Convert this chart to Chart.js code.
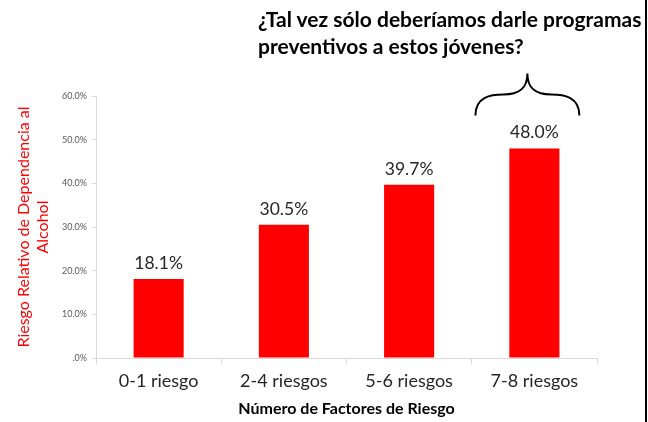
<!DOCTYPE html>
<html>
<head>
<meta charset="utf-8">
<script src="https://cdn.jsdelivr.net/npm/chart.js@4"></script>
<style>
  html, body { margin: 0; padding: 0; background: #fff; }
  #wrap { position: relative; width: 648px; height: 422px; overflow: hidden; }
  #chart { position: absolute; left: 0; top: 0; }
  #headline {
    position: absolute; left: 258px; top: 5px;
    font-family: Lato, "Open Sans", sans-serif; font-weight: bold;
    font-size: 21px; line-height: 27px; color: #000; white-space: nowrap;
  }
  #edge { position: absolute; left: 645px; top: 0; width: 2px; height: 422px; background: #000; }
</style>
</head>
<body>
<div id="wrap">
  <canvas id="chart" width="648" height="422"></canvas>
  <div id="headline">¿Tal vez sólo deberíamos darle programas<br>preventivos a estos jóvenes?</div>
  <div id="edge"></div>
</div>
<script>
// ============================================
// DATA
// ============================================
const categories = ['0-1 riesgo', '2-4 riesgos', '5-6 riesgos', '7-8 riesgos'];
const riskValues = [18.1, 30.5, 39.7, 48.0];
const yTitle = ['Riesgo Relativo de Dependencia al', 'Alcohol'];
const xTitle = 'Número de Factores de Riesgo';

const FONT = 'Lato, "Open Sans", sans-serif';

// value labels above the bars + the curly brace over the last bar
const barExtras = {
  id: 'barExtras',
  afterDatasetsDraw(chart) {
    const ctx = chart.ctx;
    const meta = chart.getDatasetMeta(0);
    ctx.save();
    ctx.fillStyle = '#262626';
    ctx.font = '17.5px ' + FONT;
    ctx.textAlign = 'center';
    ctx.textBaseline = 'alphabetic';
    meta.data.forEach((bar, i) => {
      ctx.fillText(riskValues[i].toFixed(1) + '%', bar.x, bar.y - 10);
    });

    // brace over the last group
    const last = meta.data[meta.data.length - 1];
    const cx = last.x - 7, y0 = last.y - 33, ym = y0 - 21, yp = y0 - 42;
    const half = 52;
    ctx.strokeStyle = '#000';
    ctx.lineWidth = 2;
    ctx.beginPath();
    ctx.moveTo(cx - half, y0);
    ctx.bezierCurveTo(cx - half, ym + 2, cx - half + 16, ym, cx - 24, ym);
    ctx.bezierCurveTo(cx - 8, ym, cx, ym - 6, cx, yp);
    ctx.bezierCurveTo(cx, ym - 6, cx + 8, ym, cx + 24, ym);
    ctx.bezierCurveTo(cx + half - 16, ym, cx + half, ym + 2, cx + half, y0);
    ctx.stroke();
    ctx.restore();
  }
};

new Chart(document.getElementById('chart'), {
  type: 'bar',
  data: {
    labels: categories,
    datasets: [{
      data: riskValues,
      backgroundColor: '#ff0000',
      borderWidth: 0,
      categoryPercentage: 0.4,
      barPercentage: 1.0
    }]
  },
  options: {
    responsive: false,
    animation: false,
    layout: { padding: { top: 96, right: 51, left: 0, bottom: 0 } },
    plugins: { legend: { display: false }, tooltip: { enabled: false } },
    scales: {
      x: {
        grid: { drawOnChartArea: false, color: '#d9d9d9', tickLength: 6, offset: true },
        border: { color: '#d9d9d9', width: 1 },
        ticks: { color: '#262626', font: { family: FONT, size: 18 }, padding: 6 },
        title: {
          display: true, text: xTitle, color: '#000',
          font: { family: FONT, size: 16, weight: 'bold' }, padding: { top: 1 }
        },
        afterFit(scale) { scale.height = 64; }
      },
      y: {
        min: 0, max: 60,
        grid: { drawOnChartArea: false, color: '#d9d9d9', tickLength: 4 },
        border: { color: '#d9d9d9', width: 1 },
        ticks: {
          stepSize: 10, color: '#595959', font: { family: FONT, size: 9 }, padding: 5,
          callback: v => v === 0 ? '.0%' : v.toFixed(1) + '%'
        },
        title: {
          display: true, text: yTitle, color: '#ff0000',
          font: { family: FONT, size: 16 }, padding: { top: 14, bottom: 0 }
        },
        afterFit(scale) { scale.width = 96; }
      }
    }
  },
  plugins: [barExtras]
});
</script>
</body>
</html>
